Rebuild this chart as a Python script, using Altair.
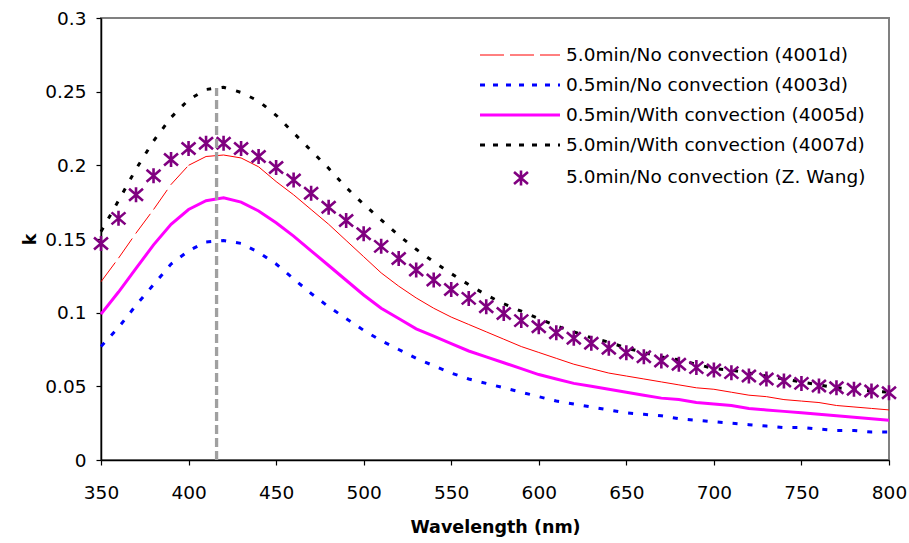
import altair as alt
import pandas as pd

# ---------------- data ----------------
wavelength = list(range(350, 801, 10))

k_4001d = [0.121, 0.137, 0.154, 0.170, 0.187, 0.200, 0.206, 0.207, 0.205, 0.199,
           0.189, 0.180, 0.170, 0.160, 0.149, 0.138, 0.127, 0.118, 0.110, 0.103,
           0.097, 0.092, 0.087, 0.082, 0.077, 0.073, 0.069, 0.065, 0.062, 0.059,
           0.057, 0.055, 0.053, 0.051, 0.049, 0.048, 0.046, 0.044, 0.043, 0.041,
           0.040, 0.039, 0.037, 0.036, 0.035, 0.034]

k_4003d = [0.077, 0.090, 0.105, 0.119, 0.133, 0.142, 0.148, 0.149, 0.147, 0.141,
           0.133, 0.123, 0.113, 0.104, 0.096, 0.088, 0.081, 0.075, 0.069, 0.064,
           0.059, 0.055, 0.052, 0.049, 0.046, 0.043, 0.040, 0.038, 0.036, 0.034,
           0.032, 0.031, 0.030, 0.028, 0.027, 0.026, 0.025, 0.024, 0.023, 0.022,
           0.022, 0.021, 0.020, 0.020, 0.019, 0.019]

k_4005d = [0.099, 0.114, 0.130, 0.146, 0.160, 0.170, 0.176, 0.178, 0.175, 0.169,
           0.161, 0.152, 0.142, 0.132, 0.122, 0.112, 0.103, 0.096, 0.089, 0.084,
           0.079, 0.074, 0.070, 0.066, 0.062, 0.058, 0.055, 0.052, 0.050, 0.048,
           0.046, 0.044, 0.042, 0.041, 0.039, 0.038, 0.037, 0.035, 0.034, 0.033,
           0.032, 0.031, 0.030, 0.029, 0.028, 0.027]

k_4007d = [0.155, 0.176, 0.1975, 0.2165, 0.2325, 0.2445, 0.2515, 0.253, 0.2495, 0.2436,
           0.234, 0.222, 0.210, 0.198, 0.185, 0.1735, 0.163, 0.1525, 0.143, 0.1345,
           0.1265, 0.119, 0.112, 0.106, 0.101, 0.096, 0.091, 0.087, 0.083, 0.080,
           0.076, 0.073, 0.070, 0.068, 0.065, 0.062, 0.061, 0.059, 0.057, 0.055,
           0.053, 0.051, 0.049, 0.048, 0.047, 0.046]

k_wang = [0.147, 0.164, 0.180, 0.193, 0.204, 0.2115, 0.215, 0.215, 0.2115, 0.206,
          0.1985, 0.190, 0.181, 0.1715, 0.1625, 0.1535, 0.145, 0.1367, 0.129, 0.1222,
          0.1157, 0.1097, 0.104, 0.0995, 0.0946, 0.0905, 0.0864, 0.0826, 0.0792, 0.0758,
          0.0728, 0.0701, 0.0672, 0.065, 0.0627, 0.0611, 0.0593, 0.057, 0.055, 0.0536,
          0.052, 0.0502, 0.049, 0.048, 0.0468, 0.0457]

peak_wavelength = [416]
peak_k = [0.2525]

series_labels = [
    "5.0min/No convection (4001d)",
    "0.5min/No convection (4003d)",
    "0.5min/With convection (4005d)",
    "5.0min/With convection (4007d)",
    "5.0min/No convection (Z. Wang)",
]

x_ticks = list(range(350, 801, 50))
y_ticks = [0, 0.05, 0.1, 0.15, 0.2, 0.25, 0.3]

# ---------------- styles ----------------
FONT = "DejaVu Sans"
LABEL_SIZE = 18.5
TITLE_SIZE = 17.5
STAR = "M-0.93,-0.8L0.93,0.8M-0.93,0.8L0.93,-0.8M0,-1L0,1"

x_enc = alt.X(
    "wl:Q",
    scale=alt.Scale(domain=[350, 800], nice=False, zero=False),
    axis=alt.Axis(values=x_ticks, title="Wavelength (nm)", labelFlush=False,
                  labelOverlap=False, labelPadding=18, titleY=72,
                  titleBaseline="alphabetic", grid=False),
)
y_enc = alt.Y(
    "k:Q",
    scale=alt.Scale(domain=[0, 0.3], nice=False),
    axis=alt.Axis(values=y_ticks, format=".2~f", title="k", labelPadding=10,
                  labelOverlap=False, titleX=-71, titleY=221, titleAngle=270,
                  titleAlign="center", titleBaseline="middle", grid=False),
)


def frame(values):
    return pd.DataFrame({"wl": wavelength, "k": values})


# red: dash pattern restarts on each segment (as in the reference)
seg = pd.DataFrame({
    "wl": wavelength[:-1], "wl2": wavelength[1:],
    "k": k_4001d[:-1], "k2": k_4001d[1:],
})
red = alt.Chart(seg).mark_rule(color="#FF0000", strokeWidth=1, strokeDash=[24, 6]).encode(
    x=x_enc, x2="wl2:Q", y=y_enc, y2="k2:Q")

blue = alt.Chart(frame(k_4003d)).mark_line(
    color="#0000FF", strokeWidth=3, strokeDash=[5, 10]).encode(x=x_enc, y=y_enc)

magenta = alt.Chart(frame(k_4005d)).mark_line(
    color="#FF00FF", strokeWidth=3).encode(x=x_enc, y=y_enc)

black = alt.Chart(frame(k_4007d)).mark_line(
    color="#000000", strokeWidth=3, strokeDash=[4.5, 10.5]).encode(x=x_enc, y=y_enc)

stars = alt.Chart(frame(k_wang)).mark_point(
    shape=STAR, size=225, color="#800080", strokeWidth=2.6, filled=False, opacity=1
).encode(x=x_enc, y=y_enc)

peak_df = pd.DataFrame({"wl": peak_wavelength, "k": [0], "k2": peak_k})
peak = alt.Chart(peak_df).mark_rule(
    color="#A0A0A0", strokeWidth=3.3, strokeDash=[9, 4]).encode(x=x_enc, y=y_enc, y2="k2:Q")

# ---------------- manual legend ----------------
LX0, LX1, LTX = 379, 459, 465
row_y = [37, 67, 97, 127, 159]
line_styles = [
    dict(color="#FF0000", strokeWidth=1, strokeDash=[24, 6]),
    dict(color="#0000FF", strokeWidth=3, strokeDash=[5, 8]),
    dict(color="#FF00FF", strokeWidth=3),
    dict(color="#000000", strokeWidth=3, strokeDash=[5, 8]),
]
legend_layers = []
for i, lab in enumerate(series_labels):
    ldf = pd.DataFrame({"label": [lab]})
    if i < 4:
        legend_layers.append(
            alt.Chart(ldf).mark_rule(**line_styles[i]).encode(
                x=alt.value(LX0), x2=alt.value(LX1), y=alt.value(row_y[i])))
    else:
        legend_layers.append(
            alt.Chart(ldf).mark_point(shape=STAR, size=225, color="#800080",
                                      strokeWidth=2.6, filled=False, opacity=1).encode(
                x=alt.value(420), y=alt.value(row_y[i] + 1)))
    legend_layers.append(
        alt.Chart(ldf).mark_text(align="left", baseline="middle", font=FONT,
                                 fontSize=LABEL_SIZE, color="#000000").encode(
            x=alt.value(LTX), y=alt.value(row_y[i]), text="label:N"))

chart = alt.layer(red, blue, magenta, black, stars, peak, *legend_layers).properties(
    width=788, height=442,
    autosize=alt.AutoSizeParams(type="none"),
    padding={"left": 101, "top": 18, "right": 20, "bottom": 83},
    background="#FFFFFF",
).configure_view(
    stroke="#808080", strokeWidth=2
).configure_axis(
    labelFont=FONT, labelFontSize=LABEL_SIZE, labelColor="#000000",
    titleFont=FONT, titleFontSize=TITLE_SIZE, titleFontWeight="bold", titleColor="#000000",
    domainColor="#000000", domainWidth=1.5, tickColor="#000000", tickSize=5, tickWidth=1.2,
)

chart.save("out.html", embed_options={"renderer": "svg", "actions": False})
